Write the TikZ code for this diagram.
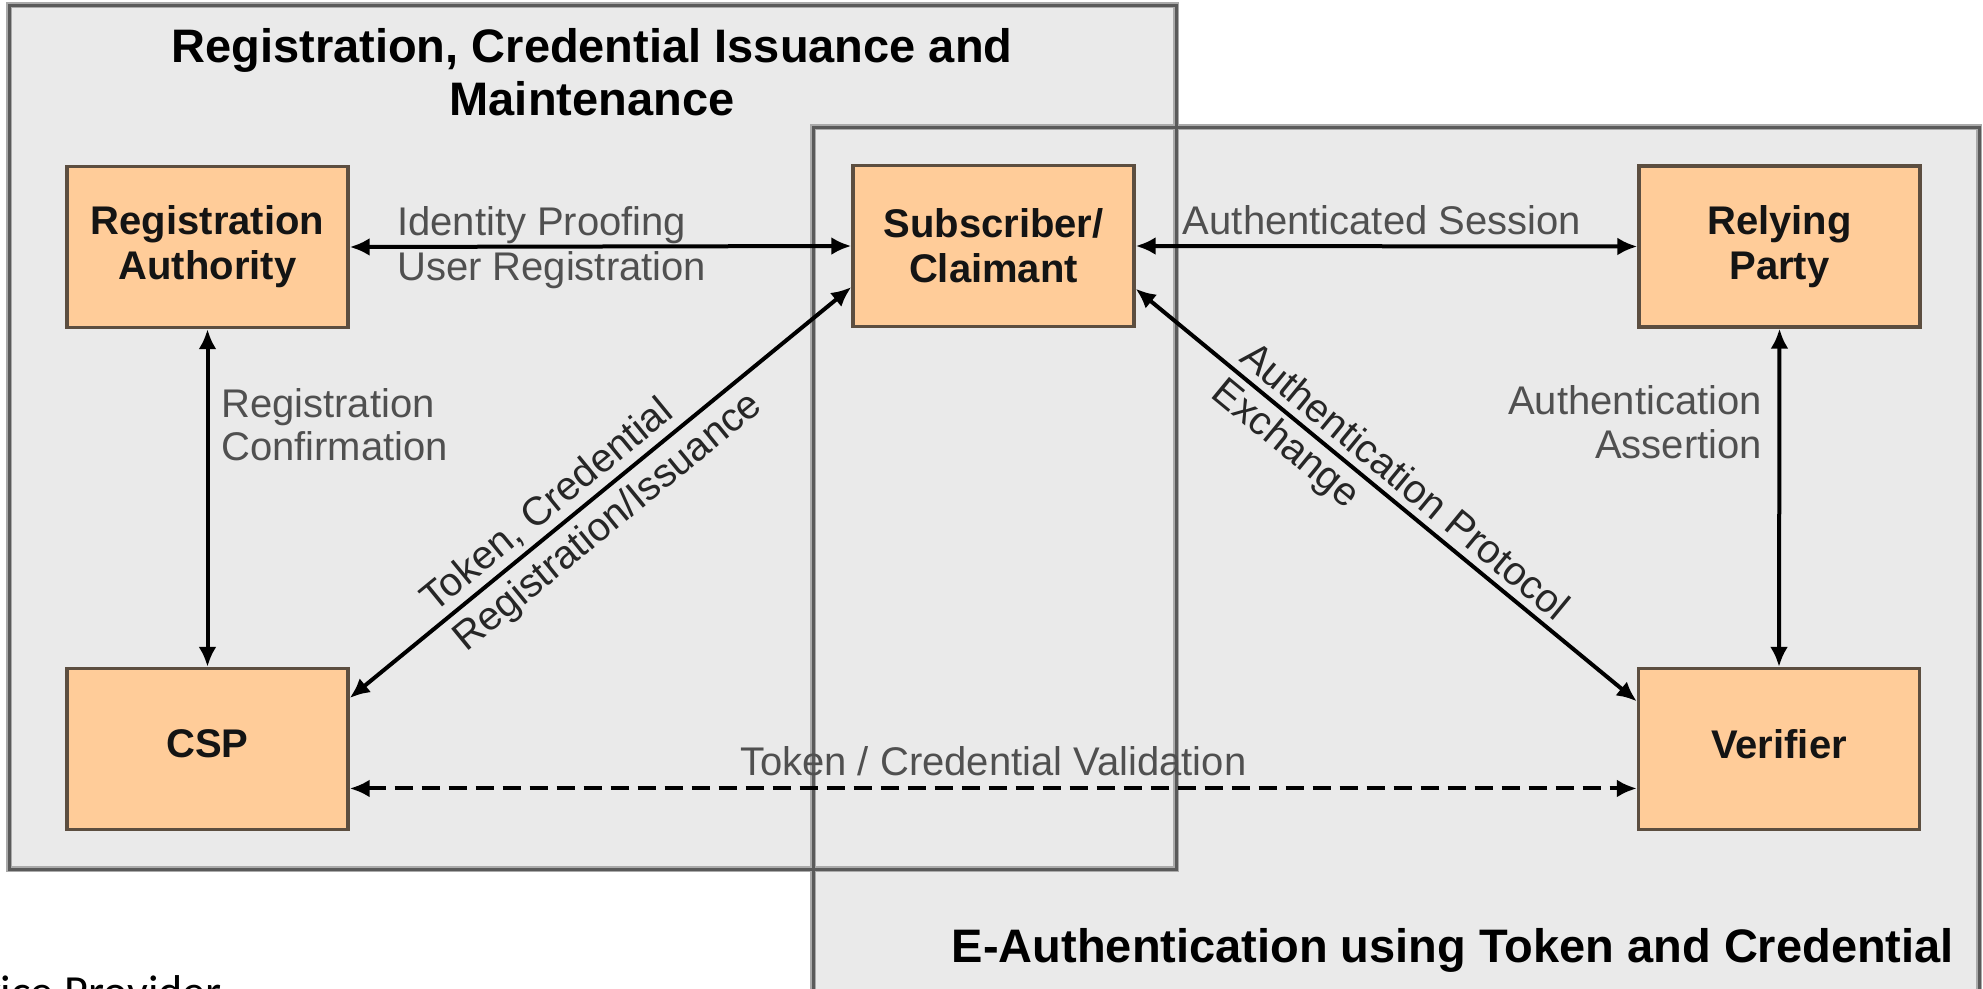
\documentclass[tikz,border=0pt]{standalone}
\usepackage{fontspec}
\setmainfont{Liberation Sans}
\newfontfamily\calibfont{Carlito}
\usetikzlibrary{arrows.meta,calc}
\definecolor{boxfill}{RGB}{255,204,153}
\definecolor{boxline}{RGB}{92,78,64}
\definecolor{panel}{RGB}{234,234,234}
\definecolor{panelline}{RGB}{90,90,90}
\definecolor{panelhalo}{RGB}{170,170,170}
\definecolor{labelgray}{RGB}{80,80,80}
\begin{document}
\begin{tikzpicture}[x=1pt,y=-1pt,
  actor/.style={draw=boxline, line width=3.4pt, fill=boxfill, minimum width=281pt, minimum height=161pt,
    align=center, font=\fontsize{40}{45}\selectfont\bfseries, text=black!92, inner sep=0pt},
  flow/.style={line width=4pt, draw=black, {Latex[length=20pt,width=18pt]}-{Latex[length=20pt,width=18pt]}},
  lbl/.style={font=\fontsize{40}{45}\selectfont, text=labelgray, inner sep=0pt},
  slbl/.style={font=\fontsize{40}{45}\selectfont, text=black!85, inner xsep=0pt, sloped},
  ttl/.style={font=\fontsize{47}{53}\selectfont\bfseries, align=center, inner sep=0pt, text=black}]
\useasboundingbox (0,0) rectangle (1983,988);
% panels
\fill[panel] (9,5) rectangle (1176,869);
\fill[panel] (813,127) rectangle (1979,1000);
\draw[panelhalo, line width=6pt] (9,5) rectangle (1176,869);
\draw[panelhalo, line width=6pt] (813,1000) -- (813,127) -- (1979,127) -- (1979,1000);
\draw[panelline, line width=3pt] (9,5) rectangle (1176,869);
\draw[panelline, line width=3pt] (813,1000) -- (813,127) -- (1979,127) -- (1979,1000);
% titles
\node[ttl] (t1) at (592,72) {Registration, Credential Issuance and\\Maintenance};
\node[ttl, anchor=base east] (t2) at (1954,962) {E-Authentication using Token and Credential};
% actors
\node[actor] (RA) at (207.5,247) {Registration\\Authority};
\node[actor, text depth=10pt] (CSP) at (207.5,749) {CSP};
\node[actor] (Sub) at (993.5,246) {Subscriber/\\Claimant};
\node[actor] (RP) at (1779.5,246.5) {Relying\\Party};
\node[actor, text depth=10pt] (Ver) at (1779,749) {Verifier};
% connectors
\draw[flow] (RA.east) -- (Sub.west);
\draw[flow] (Sub.east) -- (RP.west);
\draw[flow] (RA.south) -- (CSP.north);
\draw[flow] (RP.south) -- (Ver.north);
\draw[flow] ($(Sub.south west)!0.25!(Sub.north west)$) -- ($(CSP.north east)!0.19!(CSP.south east)$)
  node[slbl, pos=0.576, anchor=south, inner ysep=5pt] (l1) {Token, Credential}
  node[slbl, pos=0.52, anchor=north, inner ysep=8pt] (l2) {Registration/Issuance};
\draw[flow] ($(Sub.south east)!0.24!(Sub.north east)$) -- ($(Ver.north west)!0.21!(Ver.south west)$)
  node[slbl, pos=0.509, anchor=south, inner ysep=7.5pt] (l3) {Authentication Protocol}
  node[slbl, pos=0.33, anchor=north, inner ysep=5pt] (l4) {Exchange};
\draw[flow, dash pattern=on 18pt off 9pt] ($(CSP.north east)!0.74!(CSP.south east)$) -- ($(Ver.north west)!0.74!(Ver.south west)$)
  node[lbl, midway, anchor=base, yshift=13pt] (l5) {Token / Credential Validation};
% labels
\node[lbl, anchor=base west] (l6) at (397,235) {Identity Proofing};
\node[lbl, anchor=base west] (l7) at (397,280) {User Registration};
\node[lbl, anchor=base] (l8) at (1382,234) {Authenticated Session};
\node[lbl, anchor=base west] (l9) at (221,417) {Registration};
\node[lbl, anchor=base west] (l10) at (221,460) {Confirmation};
\node[lbl, anchor=base east] (l11) at (1762,414) {Authentication};
\node[lbl, anchor=base east] (l12) at (1762,458) {Assertion};
% cut-off caption at the bottom left
\node[font=\calibfont\fontsize{46}{50}\selectfont, anchor=base east, inner sep=0pt, text=black] (cap) at (222,1007) {Service Provider};
\end{tikzpicture}
\end{document}
